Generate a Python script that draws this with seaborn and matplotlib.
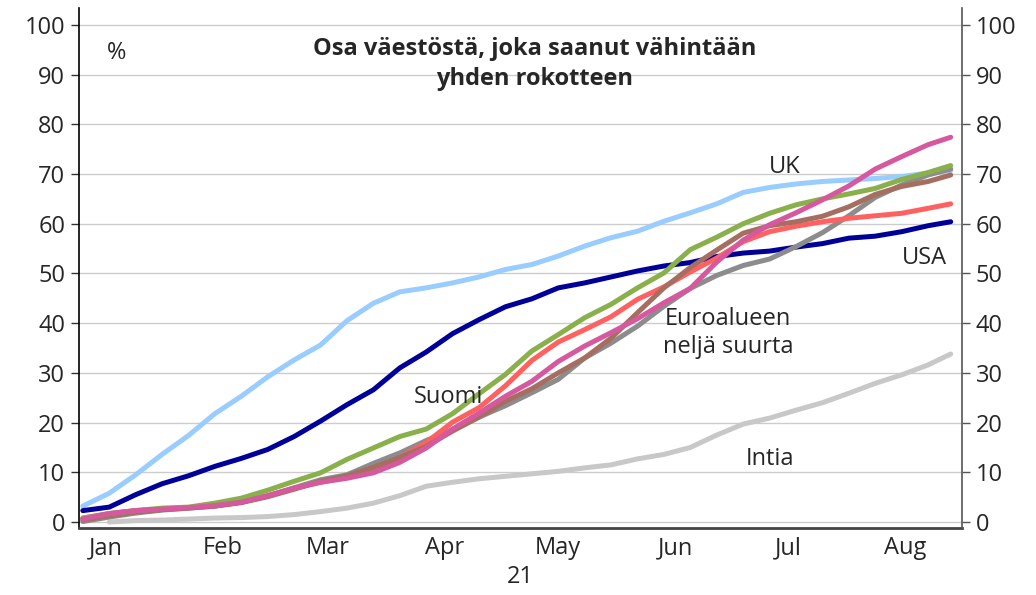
import pandas as pd
import seaborn as sns
import matplotlib.pyplot as plt
import matplotlib.dates as mdates
from matplotlib.ticker import NullFormatter

# weekly readings, % of population with at least one dose (2021)
dates = ["01-10", "01-17", "01-24", "01-31", "02-07", "02-14", "02-21", "02-28", "03-07", "03-14",
         "03-21", "03-28", "04-04", "04-11", "04-18", "04-25", "05-02", "05-09", "05-16", "05-23",
         "05-30", "06-06", "06-13", "06-20", "06-27", "07-04", "07-11", "07-18", "07-25", "08-01",
         "08-08", "08-15", "08-22", "08-28"]
uk = [3.2, 5.8, 9.5, 13.6, 17.4, 21.8, 25.3, 29.2, 32.6, 35.6, 40.5, 44.0, 46.3, 47.1, 48.1, 49.3, 50.8,
      51.8, 53.5, 55.5, 57.2, 58.5, 60.5, 62.2, 64.0, 66.3, 67.3, 68.0, 68.5, 68.8, 69.1, 69.5, 70.2, 70.7]
usa = [2.3, 3.0, 5.5, 7.7, 9.3, 11.2, 12.8, 14.6, 17.2, 20.3, 23.6, 26.6, 31.0, 34.2, 37.9, 40.7, 43.3,
       44.9, 47.1, 48.1, 49.3, 50.5, 51.5, 52.2, 53.4, 54.1, 54.5, 55.3, 56.0, 57.1, 57.5, 58.4, 59.6, 60.4]
suomi = [0.8, 1.7, 2.3, 2.8, 3.0, 3.8, 4.8, 6.4, 8.2, 9.9, 12.6, 14.9, 17.2, 18.7, 21.8, 25.8, 29.7,
         34.4, 37.7, 41.1, 43.8, 47.1, 50.1, 54.8, 57.3, 60.0, 62.1, 63.8, 65.0, 66.0, 67.1, 68.9, 70.3, 71.7]
euro_red = [0.8, 1.7, 2.3, 2.6, 2.9, 3.3, 4.0, 5.3, 6.8, 8.0, 9.0, 10.5, 13.0, 16.0, 20.1, 23.0, 27.4,
            32.5, 36.2, 38.7, 41.3, 44.8, 47.3, 50.3, 53.1, 56.4, 58.4, 59.5, 60.4, 61.1, 61.6, 62.1, 63.1, 64.0]
euro_pink = [0.6, 1.7, 2.3, 2.6, 2.9, 3.3, 4.0, 5.3, 6.8, 8.0, 8.8, 9.9, 12.0, 14.9, 18.7, 21.9, 25.3,
             28.3, 32.3, 35.4, 38.1, 40.9, 44.1, 47.0, 52.3, 56.7, 59.8, 62.2, 64.8, 67.6, 71.0, 73.5, 75.9, 77.4]
euro_brown = [0.4, 1.3, 2.0, 2.5, 2.8, 3.2, 3.9, 5.1, 6.6, 8.2, 9.3, 11.0, 13.0, 15.2, 18.3, 21.1, 24.3,
              26.8, 30.0, 33.0, 37.0, 42.1, 47.1, 51.2, 54.7, 58.1, 59.6, 60.4, 61.5, 63.4, 65.9, 67.5, 68.5, 69.8]
euro_gray = [0.1, 1.0, 1.8, 2.4, 2.8, 3.2, 4.0, 5.2, 6.9, 8.5, 9.5, 11.8, 13.9, 16.4, 18.6, 21.1, 23.4,
             26.0, 28.7, 33.0, 36.0, 39.4, 43.4, 47.0, 49.6, 51.6, 52.9, 55.4, 58.2, 61.6, 65.3, 67.8, 69.8, 71.0]
intia = [float("nan"), 0.0, 0.3, 0.4, 0.6, 0.8, 0.9, 1.1, 1.5, 2.1, 2.8, 3.8, 5.3, 7.2, 8.0, 8.7, 9.2,
         9.7, 10.2, 10.9, 11.5, 12.7, 13.6, 15.0, 17.5, 19.7, 20.9, 22.5, 24.0, 25.9, 27.9, 29.6, 31.6, 33.8]

series = {"Intia": intia, "UK": uk, "USA": usa, "Saksa": euro_gray, "Ranska": euro_red,
          "Italia": euro_brown, "Suomi": suomi, "Espanja": euro_pink}
colors = {"Intia": "#C8C8C8", "UK": "#99CCFF", "USA": "#000099", "Saksa": "#8C8C8C",
          "Ranska": "#FF6060", "Italia": "#A66E60", "Suomi": "#89B04B", "Espanja": "#D6589F"}

x = pd.to_datetime(["2021-" + d for d in dates])
df = pd.concat([pd.DataFrame({"date": x, "value": v, "maa": k}) for k, v in series.items()],
               ignore_index=True).dropna()

sns.set_style("white")
plt.rcParams["font.family"] = ["Open Sans", "DejaVu Sans"]

fig = plt.figure(figsize=(10.36, 5.95), dpi=100)
ax = fig.add_axes([0.0763, 0.1126, 0.8523, 0.874])

sns.lineplot(data=df, x="date", y="value", hue="maa", hue_order=list(series.keys()),
             palette=colors, linewidth=3.6, legend=False, ax=ax)

ax.set_xlim(pd.Timestamp("2021-01-09"), pd.Timestamp("2021-08-31"))
ax.set_ylim(-1.2, 103.4)
ax.set_yticks(range(0, 101, 10))
ax.yaxis.grid(True, color="#CCCCCC", linewidth=1)
ax.xaxis.grid(False)
ax.set_ylabel("")
ax.set_xlabel("21", fontsize=17, labelpad=3)

ax.xaxis.set_major_locator(mdates.MonthLocator(bymonthday=1))
ax.xaxis.set_major_formatter(NullFormatter())
ax.xaxis.set_minor_locator(mdates.MonthLocator(bymonthday=16))
ax.xaxis.set_minor_formatter(mdates.DateFormatter("%b"))
ax.tick_params(axis="x", which="major", length=6, width=1, color="#333333", direction="out")
ax.tick_params(axis="x", which="minor", length=0, labelsize=17, pad=6)
ax.tick_params(axis="y", left=True, length=6, width=1, labelsize=17, pad=4, color="#333333")

for s in ["top", "right"]:
    ax.spines[s].set_visible(False)
ax.spines["left"].set_color("black")
ax.spines["left"].set_linewidth(1.2)
ax.spines["bottom"].set_color("#444444")
ax.spines["bottom"].set_linewidth(2)

ax2 = ax.twinx()
ax2.set_ylim(ax.get_ylim())
ax2.set_yticks(range(0, 101, 10))
ax2.tick_params(axis="y", right=True, length=6, width=1, labelsize=17, pad=4, color="#555555")
for s in ["top", "left", "bottom"]:
    ax2.spines[s].set_visible(False)
ax2.spines["right"].set_color("#555555")
ax2.spines["right"].set_linewidth(1.2)

ax.text(0.516, 0.892, "Osa väestöstä, joka saanut vähintään\nyhden rokotteen", transform=ax.transAxes,
        ha="center", va="center", fontsize=17, fontweight="bold", linespacing=1.35)
ax.text(pd.Timestamp("2021-01-19"), 94.4, "%", ha="center", va="center", fontsize=17)

labels = [("UK", "2021-07-15", 71.4), ("USA", "2021-08-21", 53.1),
          ("Euroalueen\nneljä suurta", "2021-06-30", 38.0), ("Suomi", "2021-04-17", 25.2),
          ("Intia", "2021-07-11", 12.7)]
for txt, d, y in labels:
    ax.text(pd.Timestamp(d), y, txt, ha="center", va="center", fontsize=17, linespacing=1.2)

fig.savefig("out.png", dpi=100)
